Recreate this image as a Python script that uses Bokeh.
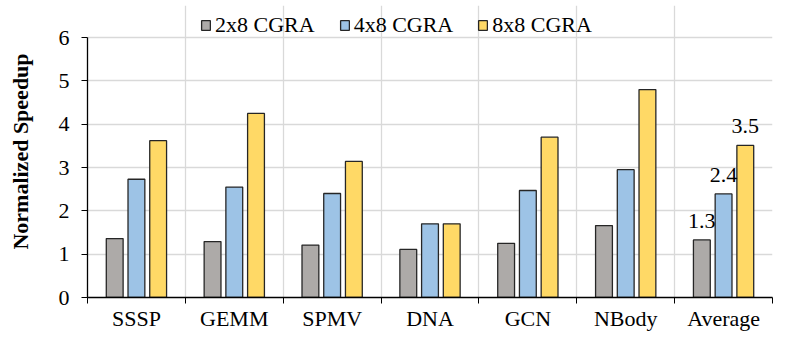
from bokeh.plotting import figure
from bokeh.models import ColumnDataSource, FixedTicker, Legend, LegendItem, LabelSet
from bokeh.core.properties import value
from bokeh.embed import file_html
from bokeh.resources import INLINE

categories = ["SSSP", "GEMM", "SPMV", "DNA", "GCN", "NBody", "Average"]
cgra_2x8 = [1.36, 1.29, 1.21, 1.11, 1.25, 1.66, 1.33]
cgra_4x8 = [2.73, 2.55, 2.40, 1.70, 2.47, 2.95, 2.39]
cgra_8x8 = [3.62, 4.25, 3.14, 1.70, 3.70, 4.80, 3.51]
series_names = ["2x8 CGRA", "4x8 CGRA", "8x8 CGRA"]
avg_labels = ["1.3", "2.4", "3.5"]
y_ticks = [0, 1, 2, 3, 4, 5, 6]

colors = ["#ADAAA8", "#9DC3E6", "#FFD966"]
FONT = "Liberation Serif"
FS = "22px"

n = len(categories)
centers = [i + 0.5 for i in range(n)]
bounds = list(range(n + 1))
y_max = 6
y_top = 6.74  # headroom for the legend

p = figure(width=789, height=340, x_range=(0, n), y_range=(0, y_top),
           output_backend="svg", toolbar_location=None,
           min_border_left=87, min_border_right=17, min_border_top=5, min_border_bottom=43)
p.outline_line_color = None
p.background_fill_color = "white"

step = 0.222
bw = 0.172
renderers = []
for k, vals in enumerate([cgra_2x8, cgra_4x8, cgra_8x8]):
    src = ColumnDataSource(dict(x=[c + (k - 1) * step for c in centers], top=vals))
    r = p.vbar(x="x", top="top", width=bw, source=src, fill_color=colors[k],
               line_color="#262626", line_width=1.3)
    renderers.append(r)

# average labels
avg_src = ColumnDataSource(dict(
    x=[centers[-1] + (k - 1) * step for k in range(3)],
    y=[cgra_2x8[-1], cgra_4x8[-1], cgra_8x8[-1]],
    t=avg_labels))
labels = LabelSet(x="x", y="y", text="t", source=avg_src, text_align="center",
                  text_baseline="bottom", y_offset=12, text_font=value(FONT),
                  text_font_size=value(FS), text_color="black")
p.add_layout(labels)

# axes
p.xaxis.ticker = FixedTicker(ticks=centers, minor_ticks=bounds)
p.xaxis.major_label_overrides = {c: name for c, name in zip(centers, categories)}
p.xaxis.major_tick_line_color = None
p.xaxis.major_tick_out = 0
p.xaxis.major_tick_in = 0
p.xaxis.minor_tick_out = 6
p.xaxis.minor_tick_in = 0
p.xaxis.minor_tick_line_color = "black"
p.xaxis.axis_line_color = "black"
p.xaxis.axis_line_width = 1.3
p.xaxis.major_label_text_font = FONT
p.xaxis.major_label_text_font_size = FS
p.xaxis.major_label_text_color = "black"
p.xaxis.major_label_standoff = 2

p.yaxis.ticker = FixedTicker(ticks=y_ticks)
p.yaxis.bounds = (0, y_max)
p.yaxis.minor_tick_line_color = None
p.yaxis.major_tick_out = 6
p.yaxis.major_tick_in = 0
p.yaxis.axis_line_color = "black"
p.yaxis.axis_line_width = 1.3
p.yaxis.major_label_text_font = FONT
p.yaxis.major_label_text_font_size = FS
p.yaxis.major_label_text_color = "black"
p.yaxis.major_label_standoff = 12
p.yaxis.axis_label = "Normalized Speedup"
p.yaxis.axis_label_text_font = FONT
p.yaxis.axis_label_text_font_style = "bold"
p.yaxis.axis_label_text_font_size = FS
p.yaxis.axis_label_text_color = "black"
p.yaxis.axis_label_standoff = 23

p.xgrid.ticker = FixedTicker(ticks=bounds)
p.xgrid.bounds = (0, y_max)
p.xgrid.grid_line_color = "#D9D9D9"
p.xgrid.grid_line_width = 1.3
p.ygrid.ticker = FixedTicker(ticks=y_ticks)
p.ygrid.grid_line_color = "#D9D9D9"
p.ygrid.grid_line_width = 1.3

legend = Legend(items=[LegendItem(label=nm, renderers=[r]) for nm, r in zip(series_names, renderers)],
                orientation="horizontal", location=(113, 259),
                glyph_width=11, glyph_height=12, label_standoff=4, spacing=24,
                padding=0, margin=0, border_line_color=None, background_fill_alpha=0,
                label_text_font=FONT, label_text_font_size=FS, label_text_color="black")
p.add_layout(legend, "center")

open("out.html", "w").write(file_html(p, INLINE))
